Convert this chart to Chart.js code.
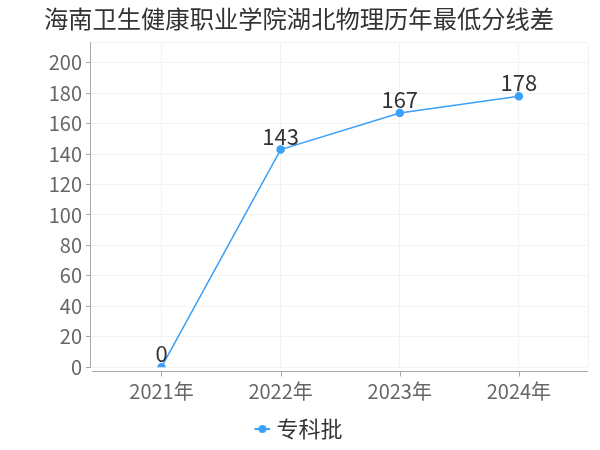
<!DOCTYPE html>
<html><head><meta charset="utf-8">
<script src="https://cdn.jsdelivr.net/npm/chart.js@4.4.1/dist/chart.umd.min.js"></script>
<style>html,body{margin:0;padding:0;background:#fff}#wrap{width:600px;height:450px}</style>
</head><body><div id="wrap"><canvas id="c" width="600" height="450"></canvas></div>
<script>
const title = '海南卫生健康职业学院湖北物理历年最低分线差';
const categories = ['2021年', '2022年', '2023年', '2024年'];
const seriesName = '专科批';
const values = [0, 143, 167, 178];
const yTicks = [0, 20, 40, 60, 80, 100, 120, 140, 160, 180, 200];

const FONT = '"Noto Sans CJK SC", sans-serif';
const COLOR = '#3ba0f8';
const AXIS = '#aaaaaa';
const Y_MAX = 213;
const X_MIN = -0.6, X_MAX = 3.58;

// legend marker: line with a dot
const mk = document.createElement('canvas');
mk.width = 20; mk.height = 10;
(function(){const g = mk.getContext('2d');
 g.strokeStyle = COLOR; g.lineWidth = 2; g.beginPath(); g.moveTo(4,5); g.lineTo(20,5); g.stroke();
 g.fillStyle = COLOR; g.beginPath(); g.arc(12,5,4,0,Math.PI*2); g.fill();})();

const axisPlugin = {
  id: 'xaxisline',
  beforeDatasetsDraw(chart) {
    const {ctx, chartArea} = chart;
    const xs = chart.scales.x;
    const y0 = Math.round(chartArea.bottom) + 4.5;
    ctx.save();
    ctx.strokeStyle = AXIS; ctx.lineWidth = 1;
    ctx.beginPath();
    ctx.moveTo(chartArea.left + 2, y0); ctx.lineTo(chartArea.right, y0);
    categories.forEach((c, i) => {
      const px = Math.round(xs.getPixelForValue(i)) + 0.5;
      ctx.moveTo(px, y0); ctx.lineTo(px, y0 + 5);
    });
    ctx.stroke();
    ctx.restore();
  }
};

const labelPlugin = {
  id: 'vals',
  afterDatasetsDraw(chart) {
    const ctx = chart.ctx;
    const meta = chart.getDatasetMeta(0);
    ctx.save();
    ctx.font = '22px ' + FONT;
    ctx.fillStyle = '#333';
    ctx.textAlign = 'center';
    ctx.textBaseline = 'alphabetic';
    meta.data.forEach((p, i) => {
      ctx.fillText(String(values[i]), p.x, p.y - 5);
    });
    ctx.restore();
  }
};

new Chart(document.getElementById('c'), {
  type: 'line',
  data: {
    datasets: [{
      label: seriesName,
      data: values.map((v, i) => ({x: i, y: v})),
      borderColor: COLOR,
      backgroundColor: COLOR,
      borderWidth: 1.5,
      pointRadius: 3.5,
      pointHoverRadius: 3.5,
      pointStyle: 'circle',
      tension: 0
    }]
  },
  options: {
    responsive: false,
    animation: false,
    devicePixelRatio: 1,
    layout: {padding: {left: 10, right: 12, top: 0, bottom: 0}},
    plugins: {
      title: {display: true, text: title, color: '#333',
        font: {size: 24.3, family: FONT, weight: 'normal'},
        padding: {top: 4, bottom: 9.8}},
      legend: {position: 'bottom',
        labels: {usePointStyle: true, pointStyle: mk, boxWidth: 10, color: '#333',
          font: {size: 22, family: FONT}, padding: 4.8}},
      tooltip: {enabled: false}
    },
    scales: {
      x: {
        type: 'linear', min: X_MIN, max: X_MAX,
        afterBuildTicks: s => { s.ticks = [0,1,2,3,X_MAX].map(v => ({value: v})); },
        afterFit: s => { s.height = 46; },
        ticks: {color: '#666', font: {size: 20, family: FONT}, padding: 4,
          autoSkip: false, maxRotation: 0,
          callback: v => categories[v] !== undefined && Number.isInteger(v) ? categories[v] : ''},
        grid: {color: '#f2f2f2', tickLength: 8, tickColor: 'rgba(0,0,0,0)'},
        border: {display: false}
      },
      y: {
        min: 0, max: Y_MAX,
        afterBuildTicks: s => { s.ticks = yTicks.concat([Y_MAX]).map(v => ({value: v})); },
        afterFit: s => { s.width = 80; },
        ticks: {color: '#666', font: {size: 20, family: FONT}, padding: 4,
          callback: v => yTicks.includes(v) ? String(v) : ''},
        grid: {color: '#f2f2f2', tickLength: 4,
          tickColor: c => (c.tick && c.tick.value === Y_MAX) ? 'rgba(0,0,0,0)' : AXIS},
        border: {color: AXIS, width: 1}
      }
    }
  },
  plugins: [axisPlugin, labelPlugin]
});
</script></body></html>
